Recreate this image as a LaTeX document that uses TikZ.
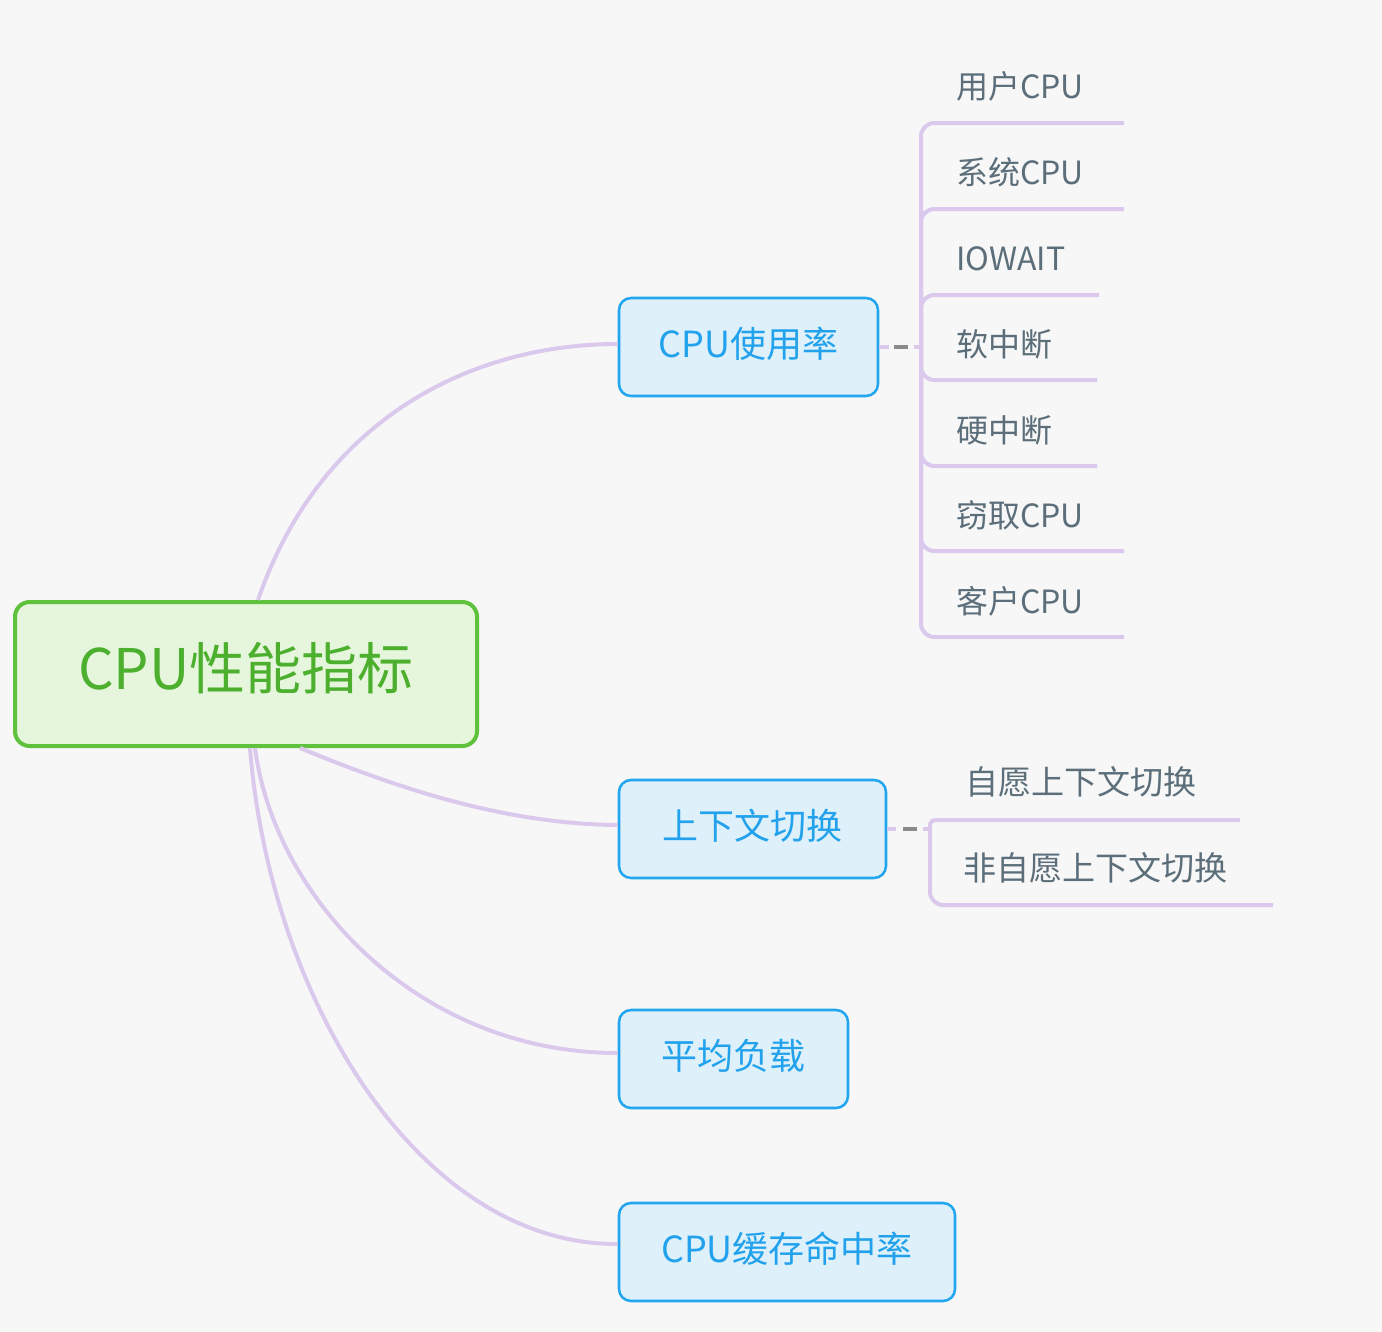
\documentclass[tikz,border=0pt]{standalone}
\usepackage{fontspec}
\setmainfont{Noto Sans CJK SC}
\usetikzlibrary{calc}
\definecolor{bgc}{HTML}{F7F7F7}
\definecolor{rootfill}{HTML}{E6F6DC}
\definecolor{rootline}{HTML}{5EC23C}
\definecolor{roottext}{HTML}{4CAF2D}
\definecolor{boxfill}{HTML}{DEF0FA}
\definecolor{boxline}{HTML}{22A6F0}
\definecolor{boxtext}{HTML}{22A2EC}
\definecolor{linkc}{HTML}{DAC9EC}
\definecolor{leaftext}{HTML}{5B6E7A}
\definecolor{gapc}{HTML}{8A8A8A}
\begin{document}
\begin{tikzpicture}[x=0.75pt,y=-0.75pt,
 rootbox/.style={draw=rootline,line width=3pt,fill=rootfill,rounded corners=11pt,text=roottext,font=\fontsize{42}{50}\selectfont,minimum width=346.5pt,minimum height=108pt,inner sep=0pt,text height=37pt,text depth=14pt},
 topic/.style={draw=boxline,line width=1.9pt,fill=boxfill,rounded corners=9pt,text=boxtext,font=\fontsize{27}{32}\selectfont,minimum height=73.5pt,inner sep=0pt,text height=23.8pt,text depth=8.4pt},
 leaf/.style={anchor=base west,text=leaftext,font=\fontsize{24}{28}\selectfont,inner sep=0pt},
 longleaf/.style={leaf,font=\fontsize{24.8}{28}\selectfont},
 link/.style={draw=linkc,line width=3pt},
 gap/.style={draw=gapc,line width=2.4pt},
]
\fill[bgc] (0,0) rectangle (1382,1332);

% root and topics
\node[rootbox] (root) at (246,674) {CPU性能指标};
\node[topic,minimum width=194.25pt] (b1) at (748.5,347) {CPU使用率};
\node[topic,minimum width=200.25pt] (b2) at (752.5,829) {上下文切换};
\node[topic,minimum width=171.75pt] (b3) at (733.5,1059) {平均负载};
\node[topic,minimum width=252pt] (b4) at (787,1252) {CPU缓存命中率};

% curved links from root
\draw[link] ($(root.north)+(12,0)$) .. controls (320,420) and (470,344) .. ($(b1.west)+(0,-3)$);
\draw[link] ($(root.south)+(54,0)$) .. controls (390,785) and (500,824) .. ($(b2.west)+(0,-4)$);
\draw[link] ($(root.south)+(9,0)$) .. controls (275,900) and (420,1053) .. ($(b3.west)+(0,-6)$);
\draw[link] ($(root.south)+(4,0)$) .. controls (270,1000) and (420,1245) .. ($(b4.west)+(0,-8)$);

% leaves of CPU使用率
\node[leaf] (l1) at (956,98) {用户CPU};
\node[leaf] (l2) at (956,184) {系统CPU};
\node[leaf] (l3) at (956,270) {IOWAIT};
\node[leaf] (l4) at (956,356) {软中断};
\node[leaf] (l5) at (956,442) {硬中断};
\node[leaf] (l6) at (956,527) {窃取CPU};
\node[leaf] (l7) at (956,613) {客户CPU};

\coordinate (j1) at (921,347);
\coordinate (u1) at (1124,123);
\coordinate (u2) at (1124,209);
\coordinate (u3) at (1099,295);
\coordinate (u4) at (1097,380);
\coordinate (u5) at (1097,466);
\coordinate (u6) at (1124,551);
\coordinate (u7) at (1124,637);

\draw[link] (b1.east) -- ++(10,0);
\draw[gap] ($(b1.east)+(15,0)$) -- ++(14,0);
\draw[link] ($(b1.east)+(35,0)$) -- (j1);
\foreach \u in {u1,u2,u3,u4,u5,u6,u7}
  \draw[link,rounded corners=10pt] (j1) |- (\u);

% leaves of 上下文切换
\node[longleaf] (m1) at (965,794) {自愿上下文切换};
\node[longleaf] (m2) at (963,880) {非自愿上下文切换};
\coordinate (j2) at (930,829);
\coordinate (v1) at (1240,820);
\coordinate (v2) at (1273,905);
\draw[link] (b2.east) -- ++(9,0);
\draw[gap] ($(b2.east)+(16,0)$) -- ++(14,0);
\draw[link] ($(b2.east)+(36,0)$) -- (j2);
\draw[link] (j2) .. controls ($(j2)+(0,-9)$) .. ($(j2)+(14,-9)$) -- (v1);
\draw[link,rounded corners=10pt] (j2) |- (v2);
\end{tikzpicture}
\end{document}
